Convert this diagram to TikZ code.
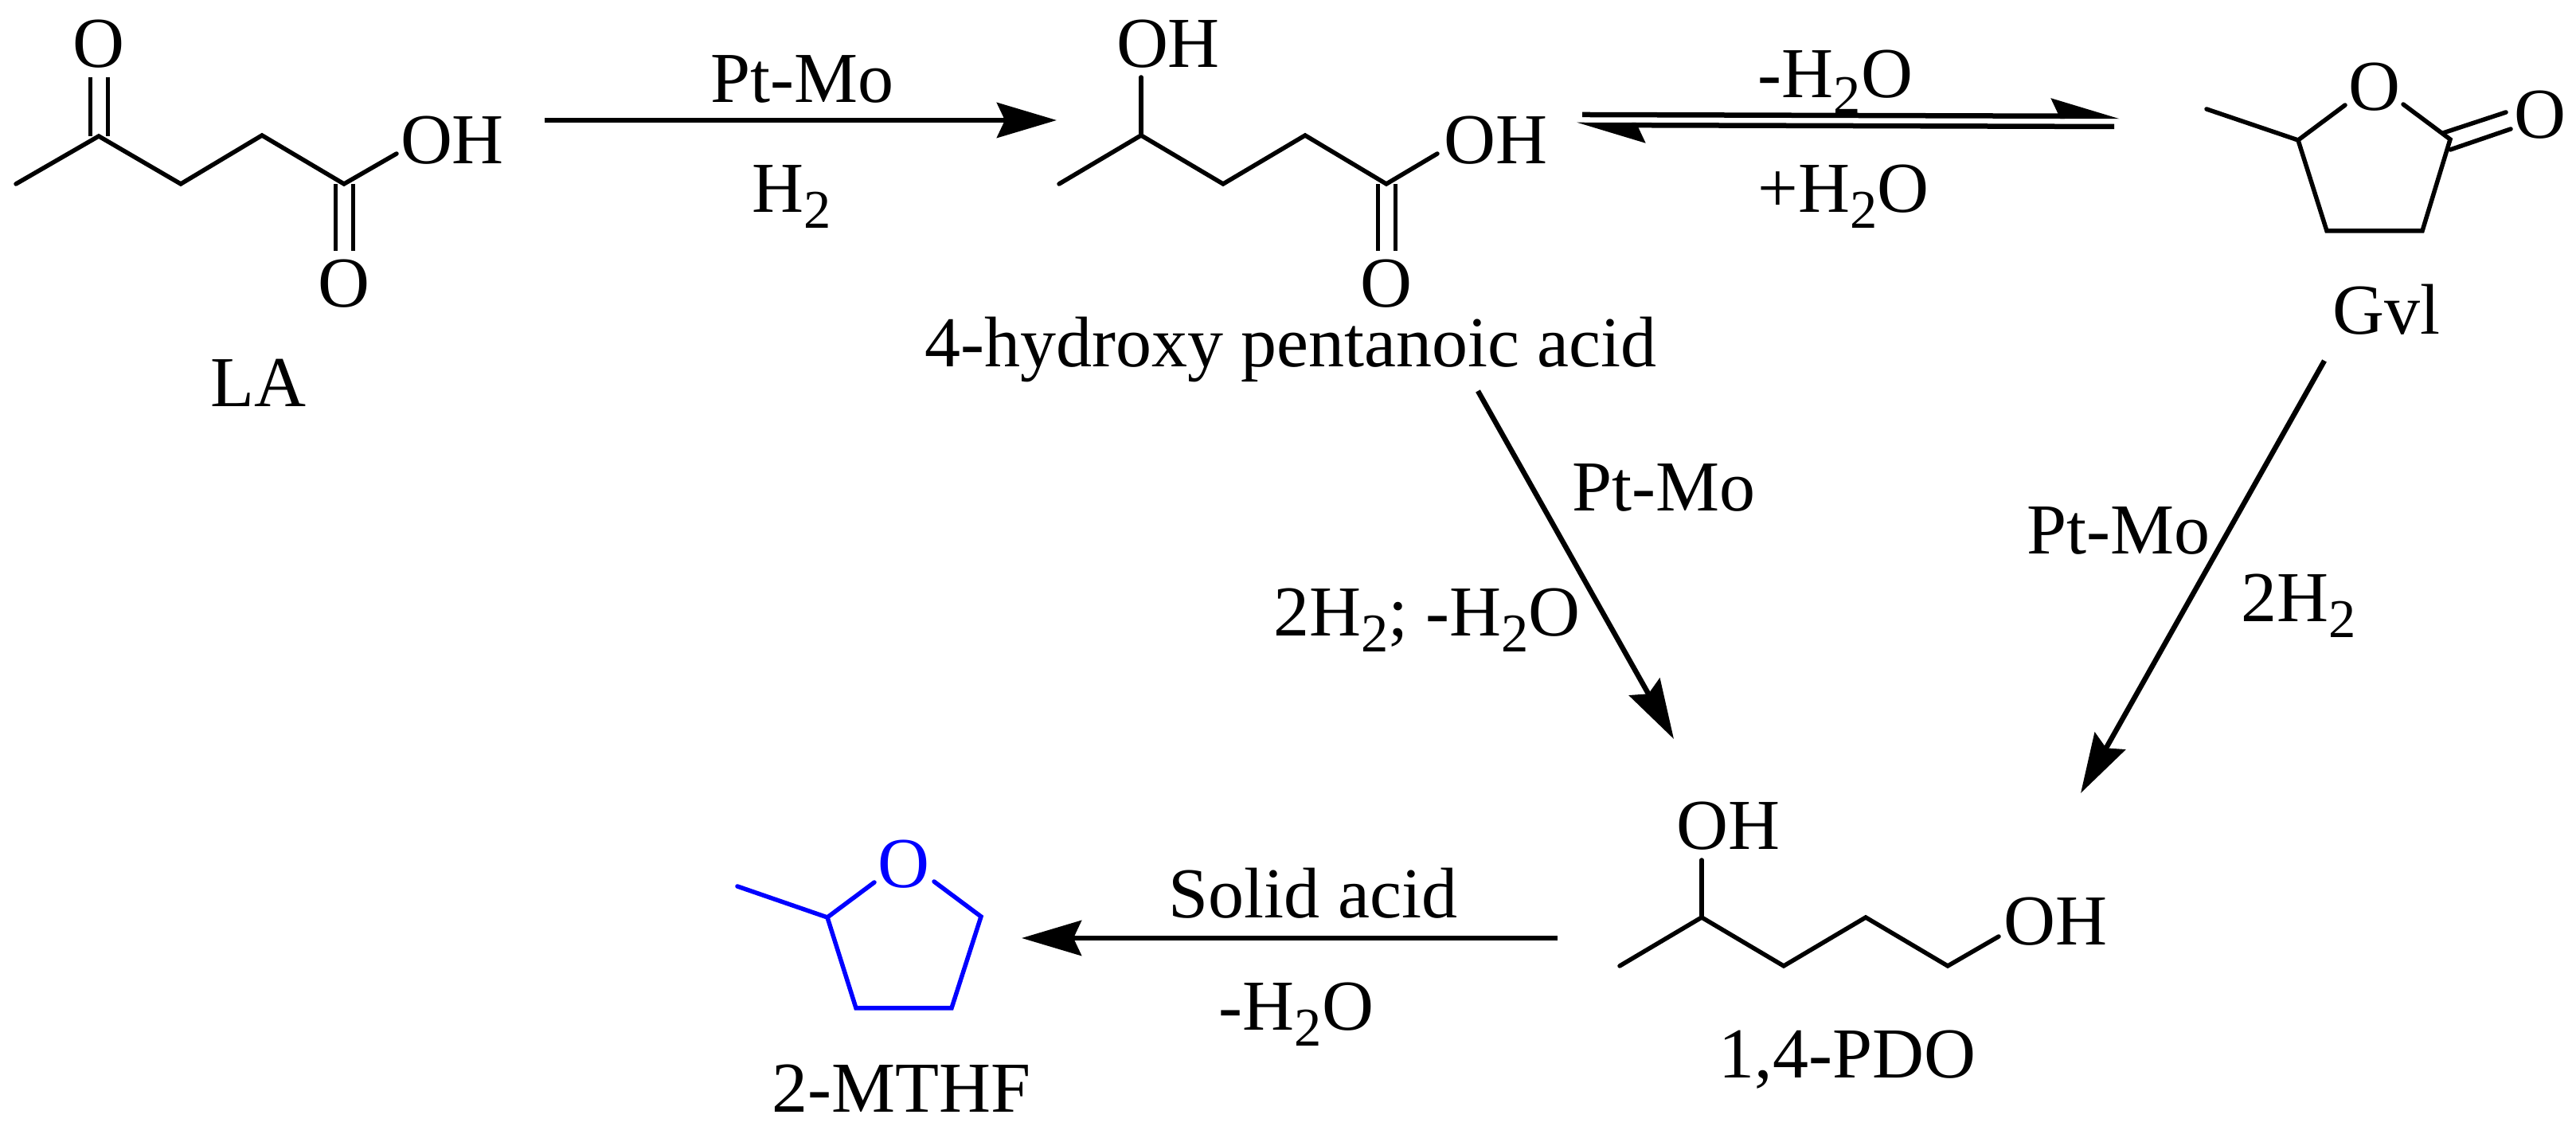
\documentclass[tikz,border=0pt]{standalone}
\usepackage{fontspec}
\setmainfont{Liberation Serif}
\usetikzlibrary{arrows.meta}
\definecolor{mthfblue}{rgb}{0.0,0.0,1.0}
\newcommand{\lowtwo}{\raisebox{-0.22em}{\fontsize{19.5}{19.5}\selectfont 2}}
\tikzset{
    bond/.style={line width=0.055cm,line cap=round},
    dblbond/.style={line width=0.05cm,double,double distance=0.17cm},
    rxn/.style={line width=0.065cm,-{Stealth[length=0.75cm,width=0.44cm,inset=0.1cm]}},
    halfrxn/.style={line width=0.065cm,-{Stealth[length=0.75cm,width=0.44cm,inset=0.1cm,harpoon]}},
    txt/.style={inner sep=0pt,anchor=base,font=\fontsize{25.6}{30}\selectfont},
    atom/.style={inner sep=0pt,font=\fontsize{25.6}{30}\selectfont},
}
\begin{document}
\begin{tikzpicture}
    \useasboundingbox (0,0) rectangle (32.35,14.24);
    % levulinic acid
    \coordinate (la1) at (0.20,11.93);
    \coordinate (la2) at (1.24,12.53);
    \coordinate (la3) at (2.27,11.93);
    \coordinate (la4) at (3.29,12.54);
    \coordinate (la5) at (4.32,11.93);
    \coordinate (la6) at (4.98,12.31);
    \coordinate (la7) at (1.24,13.27);
    \coordinate (la8) at (4.32,11.09);
    \node[atom] (laOa) at (1.24,13.69) {O};
    \node[atom] (laOb) at (4.32,10.68) {O};
    \node[atom] (laOH) at (5.68,12.48) {OH};
    \node[txt] (laname) at (3.24,9.13) {LA};
    \draw[dblbond] (la2)--(la7);
    \draw[dblbond] (la5)--(la8);
    \draw[bond] (la1)--(la2)--(la3)--(la4)--(la5)--(la6);
    % LA to hydroxy acid
    \coordinate (arAs) at (6.84,12.73);
    \coordinate (arAe) at (13.27,12.73);
    \draw[rxn] (arAs)--(arAe);
    \node[txt] (arAtop) at (10.07,12.95) {Pt-Mo};
    \node[txt] (arAbot) at (9.94,11.57) {H\lowtwo};
    % 4-hydroxy pentanoic acid
    \coordinate (hp1) at (13.30,11.93);
    \coordinate (hp2) at (14.33,12.54);
    \coordinate (hp3) at (15.36,11.93);
    \coordinate (hp4) at (16.39,12.54);
    \coordinate (hp5) at (17.41,11.93);
    \coordinate (hp6) at (18.05,12.31);
    \coordinate (hp7) at (14.33,13.27);
    \coordinate (hp8) at (17.41,11.09);
    \node[atom] (hpOHa) at (14.67,13.69) {OH};
    \node[atom] (hpOHb) at (18.78,12.48) {OH};
    \node[atom] (hpO) at (17.41,10.68) {O};
    \node[txt] (hpname) at (16.21,9.63) {4-hydroxy pentanoic acid};
    \draw[dblbond] (hp5)--(hp8);
    \draw[bond] (hp1)--(hp2)--(hp3)--(hp4)--(hp5)--(hp6);
    \draw[bond] (hp2)--(hp7);
    % equilibrium
    \coordinate (eqAs) at (19.87,12.80);
    \coordinate (eqAe) at (26.62,12.78);
    \coordinate (eqBs) at (26.55,12.65);
    \coordinate (eqBe) at (19.80,12.67);
    \draw[halfrxn] (eqAs)--(eqAe);
    \draw[halfrxn] (eqBs)--(eqBe);
    \node[txt] (eqtop) at (23.05,13.01) {-H\lowtwo O};
    \node[txt] (eqbot) at (23.15,11.57) {+H\lowtwo O};
    % gamma-valerolactone
    \coordinate (gv1) at (27.71,12.87);
    \coordinate (gv2) at (28.86,12.48);
    \coordinate (gv3) at (29.45,12.92);
    \coordinate (gv4) at (30.18,12.93);
    \coordinate (gv5) at (30.77,12.49);
    \coordinate (gv6) at (30.42,11.34);
    \coordinate (gv7) at (29.22,11.34);
    \coordinate (gv8) at (30.68,12.57);
    \coordinate (gv9) at (31.47,12.83);
    \coordinate (gv10) at (30.77,12.36);
    \coordinate (gv11) at (31.53,12.62);
    \node[atom] (gvOa) at (29.82,13.15) {O};
    \node[atom] (gvOb) at (31.90,12.80) {O};
    \node[txt] (gvname) at (29.97,10.04) {Gvl};
    \draw[bond] (gv1)--(gv2)--(gv3);
    \draw[bond] (gv4)--(gv5)--(gv6)--(gv7)--(gv2);
    \draw[bond] (gv8)--(gv9);
    \draw[bond] (gv10)--(gv11);
    % down to the diol
    \coordinate (arBs) at (18.56,9.33);
    \coordinate (arBe) at (21.02,4.96);
    \draw[rxn] (arBs)--(arBe);
    \node[txt] (arBtop) at (20.89,7.82) {Pt-Mo};
    \node[txt] (arBbot) at (17.92,6.25) {2H\lowtwo; -H\lowtwo O};
    \coordinate (arCs) at (29.19,9.71);
    \coordinate (arCe) at (26.13,4.28);
    \draw[rxn] (arCs)--(arCe);
    \node[txt] (arCtop) at (26.60,7.28) {Pt-Mo};
    \node[txt] (arCbot) at (28.87,6.43) {2H\lowtwo};
    % 1,4-PDO
    \coordinate (pd1) at (20.34,2.11);
    \coordinate (pd2) at (21.37,2.72);
    \coordinate (pd3) at (22.40,2.11);
    \coordinate (pd4) at (23.43,2.72);
    \coordinate (pd5) at (24.46,2.11);
    \coordinate (pd6) at (25.10,2.48);
    \coordinate (pd7) at (21.37,3.44);
    \node[atom] (pdOHa) at (21.70,3.87) {OH};
    \node[atom] (pdOHb) at (25.81,2.67) {OH};
    \node[txt] (pdname) at (23.20,0.70) {1,4-PDO};
    \draw[bond] (pd1)--(pd2)--(pd3)--(pd4)--(pd5)--(pd6);
    \draw[bond] (pd2)--(pd7);
    % diol to 2-MTHF
    \coordinate (arDs) at (19.56,2.46);
    \coordinate (arDe) at (12.83,2.46);
    \draw[rxn] (arDs)--(arDe);
    \node[txt] (arDtop) at (16.49,2.71) {Solid acid};
    \node[txt] (arDbot) at (16.28,1.30) {-H\lowtwo O};
    % 2-MTHF
    \coordinate (mt1) at (9.26,3.11);
    \coordinate (mt2) at (10.39,2.72);
    \coordinate (mt3) at (10.98,3.16);
    \coordinate (mt4) at (11.73,3.17);
    \coordinate (mt5) at (12.32,2.73);
    \coordinate (mt6) at (11.95,1.58);
    \coordinate (mt7) at (10.75,1.58);
    \node[atom,text=mthfblue] (mtO) at (11.35,3.39) {O};
    \node[txt] (mtname) at (11.32,0.27) {2-MTHF};
    \draw[bond,mthfblue] (mt1)--(mt2)--(mt3);
    \draw[bond,mthfblue] (mt4)--(mt5)--(mt6)--(mt7)--(mt2);
\end{tikzpicture}
\end{document}
